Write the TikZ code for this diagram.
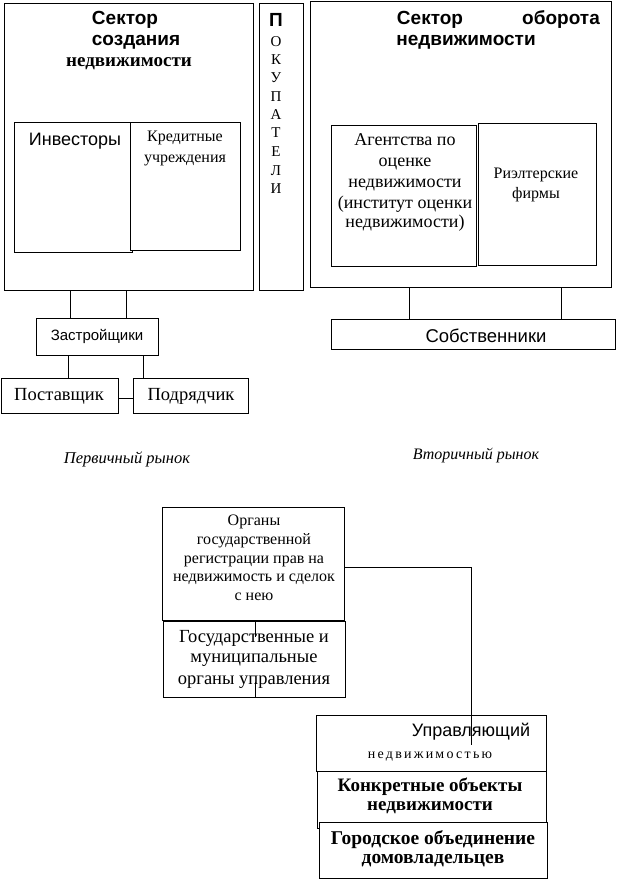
\documentclass[tikz,border=0pt]{standalone}
\usepackage{fontspec}
\setmainfont{Liberation Serif}
\newfontfamily\arial{Liberation Sans}
\newfontfamily\spaced[LetterSpace=16]{Liberation Serif}
\newcommand{\fs}[1]{\fontsize{#1pt}{#1pt}\selectfont}
\begin{document}
\begin{tikzpicture}[x=1pt,y=-1pt,
  box/.style={draw, line width=0.8pt, fill=white, inner sep=0pt, anchor=north west},
  link/.style={line width=0.8pt},
  tx/.style={anchor=base, inner sep=0pt}]
\useasboundingbox (0,0) rectangle (616,880);
% boxes
\node[box, minimum width=249pt, minimum height=287pt] (L) at (4,3) {};
\node[box, minimum width=44pt, minimum height=287pt] (P) at (259,3) {};
\node[box, minimum width=118pt, minimum height=130pt] (Inv) at (14,122) {};
\node[box, minimum width=110pt, minimum height=128pt] (Kred) at (130,122) {};
\node[box, minimum width=301pt, minimum height=286pt] (R) at (310,1) {};
\node[box, minimum width=145pt, minimum height=141pt] (Ag) at (331,125) {};
\node[box, minimum width=118pt, minimum height=142pt] (Ri) at (478,123) {};
\node[box, minimum width=284pt, minimum height=30pt] (Sob) at (331,319) {};
\node[box, minimum width=122pt, minimum height=37pt] (Zas) at (36,318) {};
\node[box, minimum width=117pt, minimum height=35pt] (Pos) at (0.6,378) {};
\node[box, minimum width=115pt, minimum height=35pt] (Pod) at (133,378) {};
\node[box, minimum width=182pt, minimum height=113pt] (Org) at (162,507) {};
\node[box, minimum width=182pt, minimum height=76pt] (Gos) at (163,621) {};
\node[box, minimum width=230pt, minimum height=56pt] (Upr) at (316,715) {};
\node[box, minimum width=229pt, minimum height=57pt] (Kon) at (317,771) {};
\node[box, minimum width=228pt, minimum height=56pt] (Gor) at (319,822) {};
% helper coordinates
\coordinate (xa) at (70,0);
\coordinate (xb) at (126,0);
\coordinate (xc) at (68,0);
\coordinate (xd) at (143,0);
\coordinate (xe) at (409,0);
\coordinate (xf) at (561,0);
\coordinate (xg) at (255,0);
\coordinate (ya) at (0,398);
\coordinate (turn) at (471,567);
\coordinate (yb) at (0,567);
\coordinate (uend) at (471,745);
% connectors
\draw[link] (L.south -| xa) -- (Zas.north -| xa);
\draw[link] (L.south -| xb) -- (Zas.north -| xb);
\draw[link] (Zas.south -| xc) -- (Pos.north -| xc);
\draw[link] (Zas.south -| xd) -- (Pod.north -| xd);
\draw[link] (Pos.east |- ya) -- (Pod.west |- ya);
\draw[link] (R.south -| xe) -- (Sob.north -| xe);
\draw[link] (R.south -| xf) -- (Sob.north -| xf);
\draw[link] (Org.east |- yb) -- (turn) -- (uend);
\draw[link] (Org.south -| xg) -- ++(0,16);
\draw[link] (Gos.south -| xg) -- ++(0,-16);
% texts
\node[tx, font=\arial\bfseries\fs{19}] (t1) at (125,25) {Сектор};
\node[tx, font=\arial\bfseries\fs{19}] (t2) at (136,46) {создания};
\node[tx, font=\bfseries\fs{19}] (t3) at (129,67) {недвижимости};
\node[tx, font=\arial\fs{18}] (t4) at (75,146) {Инвесторы};
\node[tx, font=\fs{16}] (t5) at (185,142) {Кредитные};
\node[tx, font=\fs{16}] (t6) at (185,162) {учреждения};
\node[tx, font=\arial\bfseries\fs{19}] (p1) at (276,27) {П};
\node[tx, font=\fs{15}] (p2) at (276,47) {О};
\node[tx, font=\fs{15}] (p3) at (276,65) {К};
\node[tx, font=\fs{15}] (p4) at (276,83) {У};
\node[tx, font=\fs{15}] (p5) at (276,102) {П};
\node[tx, font=\fs{15}] (p6) at (276,120) {А};
\node[tx, font=\fs{15}] (p7) at (276,138) {Т};
\node[tx, font=\fs{15}] (p8) at (276,157) {Е};
\node[tx, font=\fs{15}] (p9) at (276,175) {Л};
\node[tx, font=\fs{15}] (p10) at (276,193) {И};
\node[tx, font=\arial\bfseries\fs{19}] (r1) at (430,25) {Сектор};
\node[tx, font=\arial\bfseries\fs{19}] (r2) at (561,25) {оборота};
\node[tx, font=\arial\bfseries\fs{19}] (r3) at (466,46) {недвижимости};
\node[tx, font=\fs{18}] (a1) at (405,145) {Агентства по};
\node[tx, font=\fs{18}] (a2) at (405,166) {оценке};
\node[tx, font=\fs{18}] (a3) at (405,187) {недвижимости};
\node[tx, font=\fs{18}] (a4) at (405,208) {(институт оценки};
\node[tx, font=\fs{18}] (a5) at (405,227) {недвижимости)};
\node[tx, font=\fs{16}] (b1) at (536,178) {Риэлтерские};
\node[tx, font=\fs{16}] (b2) at (536,198) {фирмы};
\node[tx, font=\arial\fs{18.5}] (s1) at (486,342) {Собственники};
\node[tx, font=\arial\fs{15}] (z1) at (97,340) {Застройщики};
\node[tx, font=\fs{18.5}] (z2) at (59,400) {Поставщик};
\node[tx, font=\fs{18.5}] (z3) at (191,400) {Подрядчик};
\node[tx, font=\itshape\fs{16.5}] (m1) at (127,463) {Первичный рынок};
\node[tx, font=\itshape\fs{16}] (m2) at (476,459) {Вторичный рынок};
\node[tx, font=\fs{16}] (o1) at (254,525) {Органы};
\node[tx, font=\fs{16}] (o2) at (254,544) {государственной};
\node[tx, font=\fs{16}] (o3) at (254,563) {регистрации прав на};
\node[tx, font=\fs{16}] (o4) at (254,581) {недвижимость и сделок};
\node[tx, font=\fs{16}] (o5) at (254,600) {с нею};
\node[tx, font=\fs{18.5}] (g1) at (254,642) {Государственные и};
\node[tx, font=\fs{18.5}] (g2) at (254,662) {муниципальные};
\node[tx, font=\fs{18.5}] (g3) at (254,684) {органы управления};
\node[tx, font=\arial\fs{18}] (u1) at (471,736) {Управляющий};
\node[tx, font=\spaced\fs{14}] (u2) at (430,758) {недвижимостью};
\node[tx, font=\bfseries\fs{19}] (k1) at (430,791) {Конкретные объекты};
\node[tx, font=\bfseries\fs{19}] (k2) at (430,810) {недвижимости};
\node[tx, font=\bfseries\fs{19.5}] (h1) at (433,844) {Городское объединение};
\node[tx, font=\bfseries\fs{19.5}] (h2) at (433,863) {домовладельцев};
\end{tikzpicture}
\end{document}
